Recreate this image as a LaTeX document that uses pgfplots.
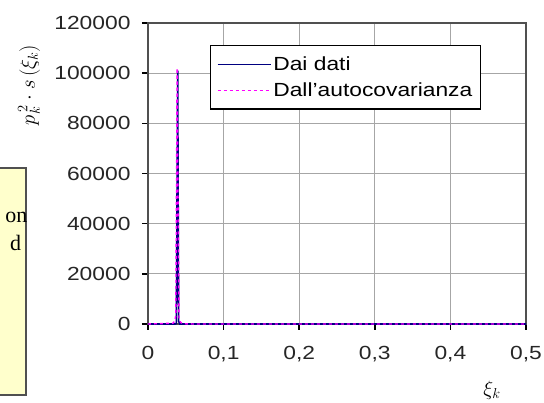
\documentclass[border=0pt]{standalone}
\usepackage{pgfplots}
\pgfplotsset{compat=1.18}
\usepackage{fontspec}
\setmainfont{Liberation Sans}
\newfontfamily\seriffont{Liberation Serif}
\definecolor{navyline}{HTML}{000080}
\definecolor{boxyellow}{HTML}{FFFFCC}
\definecolor{axgray}{HTML}{505050}
\definecolor{pinkline}{HTML}{FF00FF}
\newcommand{\wide}[1]{\scalebox{1.2}[1]{#1}}
\begin{document}
\begin{tikzpicture}
\useasboundingbox (0pt,0pt) rectangle (544pt,403pt);
% partially visible text box on the left
\begin{scope}
\clip (0pt,0pt) rectangle (544pt,403pt);
\draw[line width=1.2pt, draw=axgray, fill=boxyellow] (-10pt,8pt) rectangle (26pt,235pt);
\node[anchor=east, inner sep=0pt, font=\seriffont\fontsize{22}{24}\selectfont] at (27.5pt,186pt) {on};
\node[anchor=west, inner sep=0pt, font=\seriffont\fontsize{22}{24}\selectfont] at (10pt,160pt) {d};
\end{scope}
\begin{axis}[
  at={(148pt,79pt)}, anchor=south west,
  scale only axis, width=378pt, height=301pt,
  xmin=0, xmax=0.5, ymin=0, ymax=120000,
  clip=false,
  xtick={0,0.1,0.2,0.3,0.4,0.5},
  ytick={0,20000,40000,60000,80000,100000,120000},
  scaled y ticks=false, scaled x ticks=false,
  /pgf/number format/assume math mode=true,
  xticklabel={\wide{\pgfmathprintnumber[use comma, fixed]{\tick}}},
  yticklabel={\wide{\pgfmathprintnumber[fixed, 1000 sep={}]{\tick}}},
  xticklabel style={yshift=-13pt},
  yticklabel style={xshift=-8pt},
  tick label style={font=\fontsize{19}{21}\selectfont, text=black!85},
  tick align=outside, major tick length=6pt, tick pos=left,
  tick style={line width=1.4pt, draw=black},
  axis line style={line width=1.6pt, draw=axgray},
  grid=major, major grid style={line width=1.1pt, draw=gray!70},
  legend style={at={(0.164,0.927)}, anchor=north west, line width=1.5pt,
    font=\fontsize{19}{21}\selectfont, row sep=7pt, inner xsep=6pt, inner ysep=9pt,
    nodes={inner sep=2pt}},
  legend cell align=left,
  legend image code/.code={\draw[#1] (0pt,0pt) -- (53pt,0pt);},
]
\addlegendimage{draw=navyline, line width=1.6pt}
\addlegendentry{\wide{Dai dati}}
\addlegendimage{draw=pinkline, line width=1.6pt, dash pattern=on 3pt off 3pt}
\addlegendentry{\wide{Dall'autocovarianza}\hspace{32pt}}
\addplot[color=navyline, line width=1.6pt, forget plot] coordinates {
  (0,0) (0.036,0) (0.0375,200) (0.0393,101000) (0.0405,1200) (0.042,0) (0.5,0)
};
\addplot[color=pinkline, line width=1.4pt, dash pattern=on 3pt off 3pt, forget plot] coordinates {
  (0,0) (0.033,300) (0.0355,1200) (0.0368,3500) (0.0385,102000) (0.0395,60000) (0.041,2500) (0.043,600) (0.047,100) (0.06,0) (0.5,0)
};
\end{axis}
\node[rotate=90, font=\fontsize{21}{23}\selectfont] at (29pt,318pt) {$p_k^{\,2}\cdot s\,(\xi_k)$};
\node[font=\fontsize{20}{22}\selectfont] at (492pt,13pt) {$\xi_k$};
\end{tikzpicture}
\end{document}
